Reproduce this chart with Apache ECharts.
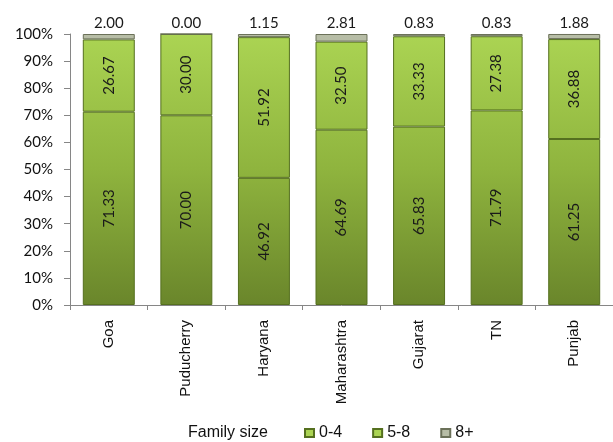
<!DOCTYPE html>
<html><head><meta charset="utf-8">
<script src="https://cdn.jsdelivr.net/npm/echarts@6/dist/echarts.min.js"></script>
<style>html,body{margin:0;padding:0;background:#fff}#c{width:613px;height:442px}</style>
</head><body><div id="c"></div>
<script>
const categories = ['Goa','Puducherry','Haryana','Maharashtra','Gujarat','TN','Punjab'];
const size04 = [71.33, 70.00, 46.92, 64.69, 65.83, 71.79, 61.25];
const size58 = [26.67, 30.00, 51.92, 32.50, 33.33, 27.38, 36.88];
const size8p = [2.00, 0.00, 1.15, 2.81, 0.83, 0.83, 1.88];
const yTicks = [0,10,20,30,40,50,60,70,80,90,100];

const chart = echarts.init(document.getElementById('c'));
const greenGrad = new echarts.graphic.LinearGradient(0, 34, 0, 304, [
  {offset: 0, color: '#abd453'},
  {offset: 0.5, color: '#8fb43e'},
  {offset: 1, color: '#6a862b'}
], true);
const numFont = 'Lato, "Open Sans", sans-serif';
const inLabel = {show: true, position: 'inside', rotate: 90, color: '#1a1a1a', fontFamily: numFont, fontSize: 15,
  formatter: p => p.value.toFixed(2)};
chart.setOption({
  animation: false,
  grid: {left: 70, right: -10, top: 34, bottom: 137, containLabel: false},
  xAxis: {type: 'category', data: categories,
    axisLine: {lineStyle: {color: '#868686', width: 1}},
    axisTick: {show: true, alignWithLabel: false, length: 5, lineStyle: {color: '#868686'}},
    axisLabel: {rotate: 90, margin: 15, color: '#111', fontFamily: '"Liberation Sans", Arial, sans-serif', fontSize: 15}
  },
  yAxis: {type: 'value', min: 0, max: 100, interval: 10,
    axisLine: {show: true, lineStyle: {color: '#868686'}},
    axisTick: {show: true, inside: false, length: 6, lineStyle: {color: '#868686'}},
    splitLine: {show: false},
    axisLabel: {margin: 17, color: '#111', fontFamily: numFont, fontSize: 15,
      formatter: v => yTicks.includes(v) ? v + '%' : ''}
  },
  legend: {left: 299, top: 420, itemWidth: 9, itemHeight: 8, itemGap: 30,
    icon: 'rect',
    textStyle: {fontFamily: '"Liberation Sans", Arial, sans-serif', fontSize: 16, color: '#111'},
    data: ['0-4','5-8','8+']},
  graphic: [{type: 'text', left: 188, top: 425,
    style: {text: 'Family size', font: '16px "Liberation Sans", Arial, sans-serif', fill: '#111'}}],
  series: [
    {name: '0-4', type: 'bar', stack: 'a', data: size04, barWidth: '67%',
      itemStyle: {color: greenGrad, borderColor: '#55701f', borderWidth: 1}, label: inLabel},
    {name: '5-8', type: 'bar', stack: 'a', data: size58,
      itemStyle: {color: greenGrad, borderColor: '#55701f', borderWidth: 1}, label: inLabel},
    {name: '8+', type: 'bar', stack: 'a', data: size8p,
      itemStyle: {color: '#b7bda6', borderColor: '#6b7159', borderWidth: 1},
      label: {show: true, position: 'top', distance: 3, color: '#1a1a1a', fontFamily: numFont, fontSize: 15,
        formatter: p => p.value.toFixed(2)}}
  ]
});
</script></body></html>
